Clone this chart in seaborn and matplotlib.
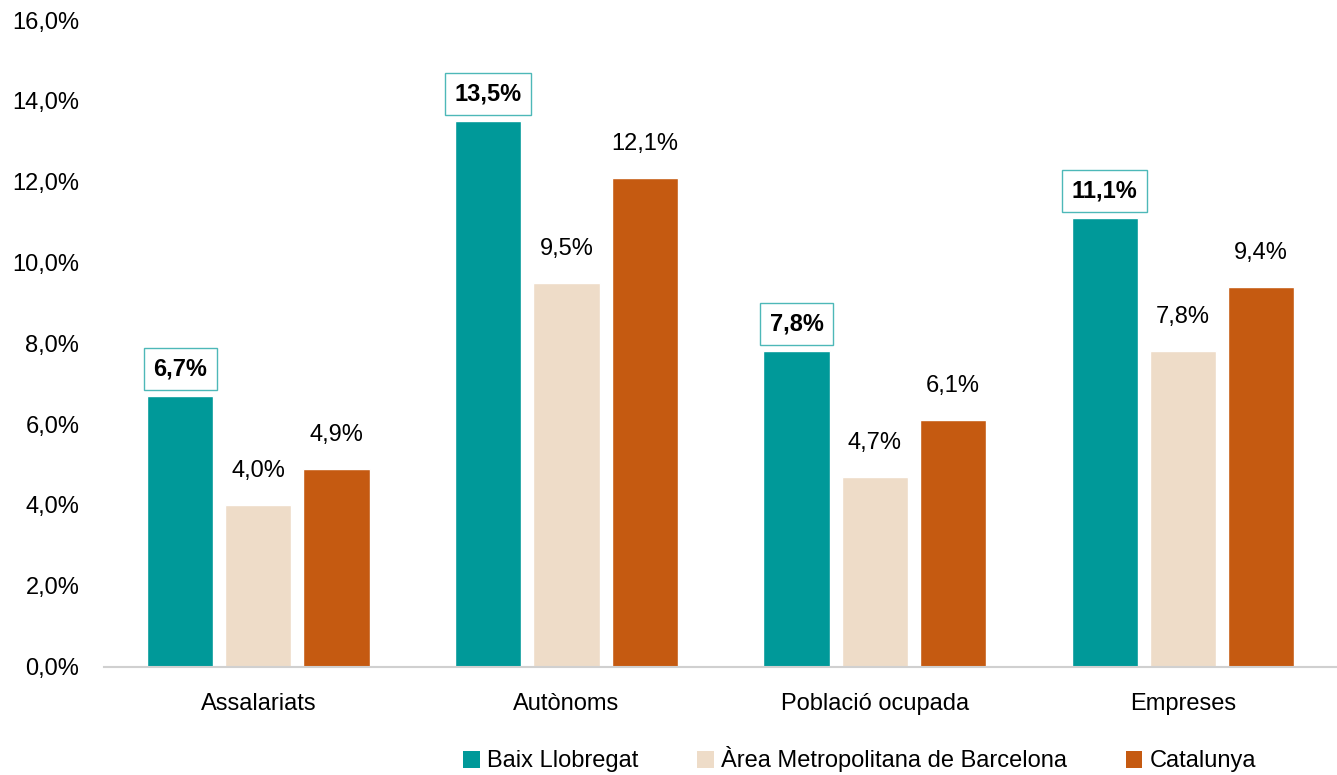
import pandas as pd
import seaborn as sns
import matplotlib.pyplot as plt
from matplotlib.patches import Patch
from matplotlib.ticker import FuncFormatter
from matplotlib import font_manager

# Data
categories = ["Assalariats", "Autònoms", "Població ocupada", "Empreses"]
baix = [6.7, 13.5, 7.8, 11.1]
amb = [4.0, 9.5, 4.7, 7.8]
cat = [4.9, 12.1, 6.1, 9.4]
series_names = ["Baix Llobregat", "Àrea Metropolitana de Barcelona", "Catalunya"]
colors = ["#009999", "#EEDCC8", "#C55A11"]

rows = []
for name, vals in zip(series_names, [baix, amb, cat]):
    for c, v in zip(categories, vals):
        rows.append({"categoria": c, "serie": name, "valor": v})
df = pd.DataFrame(rows)

sns.set_style("white")
names = {f.name for f in font_manager.fontManager.ttflist}
narrow = "Liberation Sans Narrow" if "Liberation Sans Narrow" in names else "Liberation Sans"
plt.rcParams["font.family"] = [narrow, "DejaVu Sans"]
plt.rcParams["text.color"] = "black"
plt.rcParams["xtick.color"] = "black"
plt.rcParams["ytick.color"] = "black"

fig = plt.figure(figsize=(13.37, 7.75), dpi=100)
ax = fig.add_axes([0.078, 0.14, 0.922, 0.834])

sns.barplot(
    data=df, x="categoria", y="valor", hue="serie", order=categories,
    hue_order=series_names, palette=colors, width=0.761, gap=0.154,
    saturation=1, legend=False, ax=ax,
)

ax.set_ylim(0, 16)
ax.set_xlim(-0.5, 3.5)
ax.set_yticks(range(0, 17, 2))
ax.yaxis.set_major_formatter(FuncFormatter(lambda v, p: f"{v:.1f}%".replace(".", ",")))
ax.tick_params(axis="both", labelsize=17, length=0, labelcolor="black")
ax.tick_params(axis="y", pad=18)
ax.tick_params(axis="x", pad=19)
ax.set_xlabel("")
ax.set_ylabel("")
for s in ["top", "right", "left"]:
    ax.spines[s].set_visible(False)
ax.spines["bottom"].set_color("#D0D0D0")
ax.spines["bottom"].set_linewidth(1.5)

# Value labels
for i, container in enumerate(ax.containers):
    for bar in container:
        h = bar.get_height()
        x = bar.get_x() + bar.get_width() / 2
        txt = f"{h:.1f}%".replace(".", ",")
        if i == 0:
            ax.text(x, h + 0.67, txt, ha="center", va="center", fontsize=17,
                    fontweight="bold", color="black",
                    bbox=dict(boxstyle="square,pad=0.4", fc="white", ec="#4DB8B8", lw=1))
        else:
            ax.text(x, h + 0.84, txt, ha="center", va="center", fontsize=17, color="black")

handles = [Patch(facecolor=c, edgecolor="none") for c in colors]
fig.legend(handles, series_names, loc="center", bbox_to_anchor=(0.643, 0.02),
           ncol=3, frameon=False, fontsize=17, handlelength=0.7, handleheight=0.7,
           handletextpad=0.3, columnspacing=2.5)

fig.savefig("out.png", dpi=100)
